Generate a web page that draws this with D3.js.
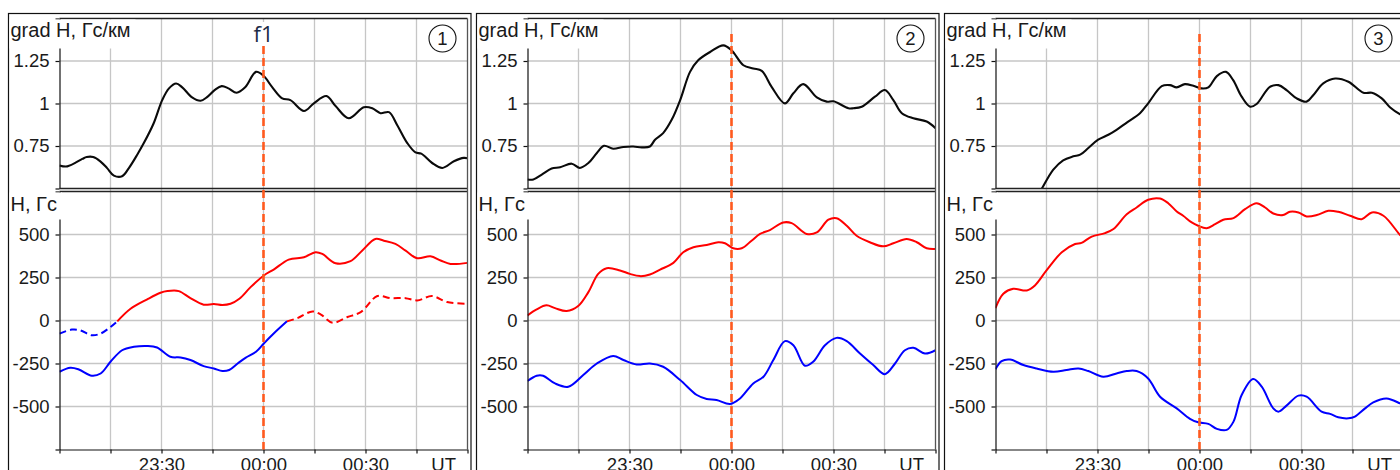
<!DOCTYPE html>
<html>
<head>
<meta charset="utf-8">
<script src="https://cdn.jsdelivr.net/npm/d3@7"></script>
<style>
  body { margin: 0; background: #fff; }
  svg { display: block; font-family: "Liberation Sans", Arial, sans-serif; }
</style>
</head>
<body>
<div id="wrapper"></div>
<script>
// time is minutes from 00:00 UT
const timeDomain = [-60, 60];
const timeTicks = [-60, -45, -30, -15, 0, 15, 30, 45, 60];
const timeLabelTimes = [-30, 0, 30];
const timeLabels = ["23:30", "00:00", "00:30"];
const unitLabelTime = 53;

const gradTicks = [0.5, 0.75, 1, 1.25, 1.5];
const hTicks = [-750, -500, -250, 0, 250, 500, 750];
const panelNumbers = ["1", "2", "3"];

// panel 1
const grad1 = [[-60,0.636],[-57.7,0.63],[-53.3,0.674],[-52,0.685],[-50.1,0.685],[-48,0.66],[-46,0.62],[-44,0.576],[-41.6,0.572],[-39.6,0.62],[-37.1,0.7],[-35.2,0.767],[-32.3,0.884],[-29.8,1.02],[-27.8,1.089],[-25.7,1.118],[-23.9,1.095],[-21,1.036],[-18.5,1.016],[-16.7,1.036],[-14.3,1.08],[-12.3,1.102],[-10.3,1.089],[-7.9,1.063],[-5.4,1.095],[-2.2,1.186],[0,1.163],[2.5,1.098],[5.5,1.03],[7.9,1.02],[11.9,0.956],[14.8,1.001],[18.5,1.044],[21.2,0.985],[25.1,0.913],[29.5,0.978],[32,0.972],[34.4,0.943],[36.9,0.949],[39.3,0.874],[42.3,0.767],[44.7,0.712],[46.4,0.705],[49.6,0.65],[52.6,0.621],[56,0.66],[58.9,0.68],[60,0.678]];
const h1UpperDashed = [[-60,-76],[-56.4,-53],[-53.9,-57],[-50.5,-86],[-47.9,-76],[-45,-38],[-43,-5]];
const h1Upper = [[-43,-5],[-39.1,68],[-34.2,123],[-30.3,161],[-28.3,171],[-24.9,171],[-21.5,130],[-17.6,92],[-14.6,96],[-12.1,90],[-9.7,97],[-7.1,126],[-3.8,194],[0.1,262],[3,296],[7.4,354],[11.9,368],[15.3,397],[17.3,387],[21.2,333],[25.6,345],[29,406],[32.9,474],[35.4,464],[38.8,445],[41.8,406],[45.2,362],[49.1,373],[52.1,349],[55,329],[60,335]];
const h1Lower = [[-60,-298],[-56.8,-275],[-54.3,-285],[-50.5,-321],[-47.9,-308],[-45,-240],[-41.6,-173],[-38.1,-153],[-34.2,-148],[-31.3,-157],[-27.4,-211],[-24.4,-215],[-21.5,-230],[-17.6,-265],[-14.6,-279],[-12.1,-294],[-10.1,-288],[-7.6,-250],[-5.3,-217],[-2.2,-182],[0.1,-134],[3,-76],[6.9,-5]];
const h1LowerDashed = [[6.9,-5],[10,14],[14.4,53],[16.9,34],[20.3,-13],[24.7,20],[28.6,49],[33.5,142],[37.4,130],[41.8,130],[45.2,117],[49.6,142],[54,107],[60,97]];

// panel 2
const grad2 = [[-60,0.553],[-58.3,0.553],[-55.8,0.582],[-52.9,0.617],[-50.4,0.625],[-47,0.646],[-44.6,0.621],[-42.1,0.65],[-39.6,0.709],[-37.5,0.751],[-34.8,0.734],[-31.8,0.744],[-28.9,0.747],[-26.4,0.742],[-24,0.747],[-22.5,0.787],[-20.1,0.826],[-17.6,0.904],[-15.1,1.02],[-12.2,1.186],[-9.8,1.254],[-6.3,1.303],[-2.4,1.342],[0,1.313],[3.5,1.225],[6.4,1.206],[8.9,1.192],[11.8,1.098],[15.7,1.001],[18.2,1.06],[21.1,1.114],[25.1,1.036],[28,1.011],[30,1.013],[34.4,0.972],[35.8,0.972],[38.3,0.981],[42.2,1.04],[45.1,1.079],[47.6,1.02],[50.1,0.943],[53.5,0.913],[57.4,0.894],[60,0.855]];
const h2Upper = [[-60,30],[-57.3,65],[-54.4,88],[-51.9,72],[-48.5,55],[-45.1,84],[-42.1,165],[-39.2,271],[-36.7,304],[-32.8,291],[-29.9,271],[-26.9,258],[-24,267],[-21,296],[-17.1,335],[-14.2,397],[-11.2,426],[-7.3,439],[-3.9,455],[-1.9,449],[0.5,420],[3,420],[5.9,464],[8.4,503],[11.3,526],[15.2,570],[17.7,566],[22.1,503],[25.1,512],[28.5,586],[30.9,595],[33.9,551],[36.8,493],[40.7,455],[44.6,431],[47.6,449],[51.5,474],[54.5,455],[57.4,420],[60,416]];
const h2Lower = [[-60,-352],[-57.3,-321],[-55.4,-321],[-51.9,-366],[-48,-385],[-43.6,-317],[-39.6,-250],[-34.8,-206],[-31.8,-230],[-27.9,-256],[-24,-250],[-20.1,-269],[-15.1,-346],[-10.2,-433],[-7.3,-456],[-4.4,-462],[-0.4,-485],[2.5,-453],[6.4,-366],[9.4,-327],[12.3,-230],[15.7,-120],[18.2,-144],[21.6,-263],[24,-240],[27.5,-144],[30.9,-101],[33.9,-120],[37.8,-192],[41.7,-259],[45.1,-312],[48.1,-250],[51,-173],[53.5,-159],[56.9,-192],[60,-173]];

// panel 3
const grad3 = [[-47.5,0.46],[-46.4,0.498],[-43,0.611],[-40.1,0.666],[-37.1,0.689],[-35.1,0.699],[-32.7,0.738],[-29.8,0.787],[-26.8,0.816],[-24.4,0.845],[-21.4,0.888],[-17.5,0.943],[-15.1,1.001],[-11.1,1.102],[-8.7,1.108],[-6.7,1.095],[-4.3,1.114],[-1.8,1.104],[0.6,1.089],[2.6,1.095],[5.1,1.161],[7.8,1.186],[9.9,1.137],[12.4,1.04],[14.9,0.981],[16.8,0.997],[20.7,1.098],[23.2,1.108],[25.6,1.079],[28.6,1.03],[31.5,1.011],[33.5,1.05],[36.4,1.118],[39.9,1.147],[43.8,1.128],[48.2,1.063],[50.7,1.063],[53.6,1.03],[56,0.978],[59,0.937],[60,0.93]];
const h3Upper = [[-60,72],[-57.7,155],[-54.8,184],[-50.8,175],[-48.4,204],[-45,291],[-40.5,397],[-36.6,445],[-34.7,451],[-31.7,488],[-27.8,508],[-25.3,532],[-21.4,618],[-18.5,657],[-15.1,702],[-11.6,709],[-9.2,682],[-6.7,634],[-4.8,609],[-2.3,570],[-0.4,551],[2.1,537],[4.6,560],[7,586],[10,595],[13.4,647],[16.8,682],[19.3,657],[21.7,622],[24.6,613],[26.6,632],[29.1,628],[31.5,605],[34.5,613],[37.9,638],[40.8,632],[44.3,609],[47.7,589],[50.7,628],[54.1,609],[59,497],[60,480]];
const h3Lower = [[-60,-283],[-58.2,-236],[-55.7,-227],[-51.8,-259],[-47.9,-279],[-43,-298],[-39.1,-288],[-35.6,-279],[-32.7,-294],[-28.3,-327],[-24.4,-308],[-21.4,-294],[-18.5,-294],[-15.1,-337],[-11.6,-443],[-6.7,-511],[-2.8,-572],[-0.4,-592],[2.6,-601],[5.1,-630],[8,-636],[10,-588],[12.4,-433],[15.8,-340],[18.3,-385],[21.7,-511],[23.2,-530],[25.6,-495],[29.1,-437],[31.5,-443],[35.9,-530],[38.4,-543],[40.8,-563],[43.8,-569],[45.7,-559],[48.7,-511],[51.1,-476],[55,-453],[59,-482],[60,-490]];

function drawChart() {
  //* Step 1. Assemble panels
  const RED = "#ff0000";
  const BLUE = "#0000ff";
  const panels = [
    {
      grad: grad1,
      lines: [
        { data: h1UpperDashed, color: BLUE, dashed: true },
        { data: h1Upper, color: RED },
        { data: h1Lower, color: BLUE },
        { data: h1LowerDashed, color: RED, dashed: true },
      ],
      marker: "f1",
    },
    { grad: grad2, lines: [{ data: h2Upper, color: RED }, { data: h2Lower, color: BLUE }] },
    { grad: grad3, lines: [{ data: h3Upper, color: RED }, { data: h3Lower, color: BLUE }] },
  ];

  //* Step 2. Dimensions
  const dimensions = {
    width: 1400,
    height: 470,
    firstPlotLeft: 59.5,
    panelStep: 468,
    plotWidth: 408,
    frameTop: 13.5,
    frameLeftGap: 51,
    frameRightGap: 3.5,
    top: { y0: 18.5, y1: 188.5 },
    bottom: { y0: 191.5, y1: 449.5 },
  };

  const wrapper = d3
    .select("#wrapper")
    .append("svg")
    .attr("width", dimensions.width)
    .attr("height", dimensions.height);
  const defs = wrapper.append("defs");

  //* Step 3. Scales
  const gradScale = d3
    .scaleLinear()
    .domain([0.5, 1.5])
    .range([dimensions.top.y1, dimensions.top.y0]);
  const hScale = d3
    .scaleLinear()
    .domain([-750, 750])
    .range([dimensions.bottom.y1, dimensions.bottom.y0]);

  const gridColor = "#c6c6c6";
  const textColor = "#1a1a1a";

  panels.forEach((panel, i) => {
    const left = dimensions.firstPlotLeft + i * dimensions.panelStep;
    const right = left + dimensions.plotWidth;
    const xScale = d3.scaleLinear().domain(timeDomain).range([left, right]);
    const bounds = wrapper.append("g");

    // panel frame
    bounds
      .append("rect")
      .attr("x", left - dimensions.frameLeftGap)
      .attr("y", dimensions.frameTop)
      .attr("width", dimensions.plotWidth + dimensions.frameLeftGap + dimensions.frameRightGap)
      .attr("height", 600)
      .attr("fill", "none")
      .attr("stroke", "#111")
      .attr("stroke-width", 1.2);

    // grid
    const grid = bounds.append("g").attr("stroke", gridColor).attr("stroke-width", 1.3);
    timeTicks.slice(1, -1).forEach((t) => {
      grid.append("line")
        .attr("x1", xScale(t)).attr("x2", xScale(t))
        .attr("y1", dimensions.top.y0).attr("y2", dimensions.bottom.y1);
    });
    gradTicks.slice(1, -1).forEach((v) => {
      grid.append("line")
        .attr("x1", left).attr("x2", right)
        .attr("y1", gradScale(v)).attr("y2", gradScale(v));
    });
    hTicks.slice(1, -1).forEach((v) => {
      grid.append("line")
        .attr("x1", left).attr("x2", right)
        .attr("y1", hScale(v)).attr("y2", hScale(v));
    });

    //* Step 4. Draw data
    const clipTop = `clip-top-${i}`;
    defs.append("clipPath").attr("id", clipTop)
      .append("rect")
      .attr("x", left).attr("y", dimensions.top.y0)
      .attr("width", dimensions.plotWidth)
      .attr("height", dimensions.top.y1 - dimensions.top.y0);
    const clipBottom = `clip-bottom-${i}`;
    defs.append("clipPath").attr("id", clipBottom)
      .append("rect")
      .attr("x", left).attr("y", dimensions.bottom.y0)
      .attr("width", dimensions.plotWidth)
      .attr("height", dimensions.bottom.y1 - dimensions.bottom.y0);

    const gradLine = d3.line()
      .x((d) => xScale(d[0]))
      .y((d) => gradScale(d[1]))
      .curve(d3.curveCatmullRom.alpha(0.5));
    bounds.append("path")
      .attr("clip-path", `url(#${clipTop})`)
      .attr("d", gradLine(panel.grad))
      .attr("fill", "none")
      .attr("stroke", "#0a0a0a")
      .attr("stroke-width", 2.1)
      .attr("stroke-linejoin", "round");

    const hLine = d3.line()
      .x((d) => xScale(d[0]))
      .y((d) => hScale(d[1]))
      .curve(d3.curveCatmullRom.alpha(0.5));
    panel.lines.forEach((line) => {
      bounds.append("path")
        .attr("clip-path", `url(#${clipBottom})`)
        .attr("d", hLine(line.data))
        .attr("fill", "none")
        .attr("stroke", line.color)
        .attr("stroke-width", 2)
        .attr("stroke-dasharray", line.dashed ? "7,4" : null)
        .attr("stroke-linejoin", "round");
    });

    //* Step 5. Peripherals
    const gradAxis = d3.axisLeft(gradScale)
      .tickValues(gradTicks)
      .tickSize(4)
      .tickSizeOuter(0)
      .tickPadding(6)
      .tickFormat((d) => (d === 0.5 || d === 1.5 ? "" : String(d)));
    const hAxis = d3.axisLeft(hScale)
      .tickValues(hTicks)
      .tickSize(4)
      .tickSizeOuter(0)
      .tickPadding(6)
      .tickFormat((d) => (Math.abs(d) === 750 ? "" : String(d)));
    const timeAxis = d3.axisBottom(xScale)
      .tickValues(timeTicks)
      .tickSize(4)
      .tickSizeOuter(0)
      .tickPadding(4)
      .tickFormat((d) => {
        const k = timeLabelTimes.indexOf(d);
        return k < 0 ? "" : timeLabels[k];
      });

    [
      bounds.append("g").attr("transform", `translate(${left},0)`).call(gradAxis),
      bounds.append("g").attr("transform", `translate(${left},0)`).call(hAxis),
      bounds.append("g").attr("transform", `translate(0,${dimensions.bottom.y1})`).call(timeAxis),
    ].forEach((axis) => {
      axis.attr("font-size", 18.5).attr("font-family", null);
      axis.selectAll("path, line").attr("stroke", "#111").attr("stroke-width", 1.2);
      axis.selectAll("text").attr("fill", textColor);
    });

    // border lines
    const borders = bounds.append("g").attr("stroke", "#222").attr("stroke-width", 1.3);
    borders.append("line")
      .attr("x1", left).attr("x2", right)
      .attr("y1", dimensions.top.y0).attr("y2", dimensions.top.y0);
    borders.append("line")
      .attr("x1", left).attr("x2", right)
      .attr("y1", dimensions.top.y1).attr("y2", dimensions.top.y1);
    borders.append("line")
      .attr("x1", left).attr("x2", right)
      .attr("y1", dimensions.bottom.y0).attr("y2", dimensions.bottom.y0);
    borders.append("line")
      .attr("x1", right).attr("x2", right)
      .attr("y1", dimensions.top.y0).attr("y2", dimensions.bottom.y1)
      .attr("stroke", "#555");

    // unit label on time axis
    bounds.append("text")
      .attr("x", xScale(unitLabelTime))
      .attr("y", dimensions.bottom.y1 + 8)
      .attr("dy", "0.71em")
      .attr("text-anchor", "middle")
      .attr("font-size", 18.5)
      .attr("fill", textColor)
      .text("UT");

    // y labels with white backing
    const frameLeft = left - dimensions.frameLeftGap;
    bounds.append("rect")
      .attr("x", frameLeft + 1).attr("y", dimensions.top.y0 + 1)
      .attr("width", 126).attr("height", 29)
      .attr("fill", "#fff");
    bounds.append("text")
      .attr("x", frameLeft + 2).attr("y", 36.5)
      .attr("font-size", 20)
      .attr("fill", textColor)
      .text("grad H, Гс/км");
    bounds.append("rect")
      .attr("x", frameLeft + 1).attr("y", dimensions.bottom.y0 + 1)
      .attr("width", dimensions.frameLeftGap + 1.5).attr("height", 27)
      .attr("fill", "#fff");
    bounds.append("text")
      .attr("x", frameLeft + 2).attr("y", 211)
      .attr("font-size", 20)
      .attr("fill", textColor)
      .text("H, Гс");

    // panel number in circle
    bounds.append("circle")
      .attr("cx", right - 25).attr("cy", 38.5).attr("r", 13.5)
      .attr("fill", "#fff").attr("stroke", "#111").attr("stroke-width", 1.1);
    bounds.append("text")
      .attr("x", right - 25).attr("y", 45)
      .attr("text-anchor", "middle")
      .attr("font-size", 18.5)
      .attr("fill", textColor)
      .text(panelNumbers[i]);

    // event line at 00:00
    bounds.append("line")
      .attr("x1", xScale(0)).attr("x2", xScale(0))
      .attr("y1", 34).attr("y2", dimensions.bottom.y1)
      .attr("stroke", "#ff5a1f")
      .attr("stroke-width", 2.6)
      .attr("stroke-dasharray", "8,4");

    if (panel.marker) {
      bounds.append("rect")
        .attr("x", xScale(0) - 12).attr("y", 22)
        .attr("width", 24).attr("height", 24)
        .attr("fill", "#fff");
      bounds.append("text")
        .attr("x", xScale(0)).attr("y", 41.5)
        .attr("text-anchor", "middle")
        .attr("font-family", "'Open Sans', 'Noto Sans', sans-serif")
        .attr("font-size", 22)
        .attr("fill", "#1c2b45")
        .text(panel.marker);
    }
  });
}
drawChart();
</script>
</body>
</html>
